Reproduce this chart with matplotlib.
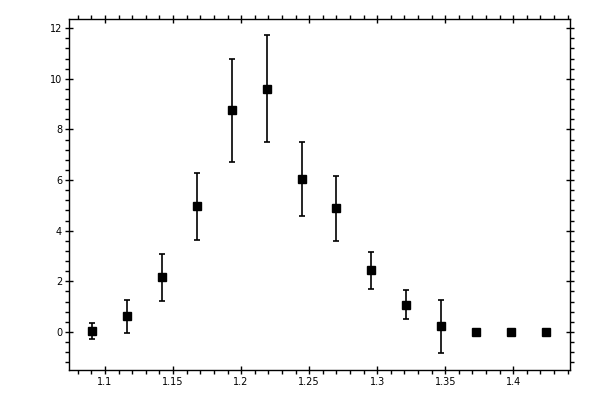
import matplotlib
matplotlib.use("Agg")
import matplotlib.pyplot as plt
from matplotlib.ticker import MultipleLocator

# bin centres, values and errors
x = [1.0904, 1.1162, 1.1419, 1.1677, 1.1934, 1.2191, 1.2449,
     1.2699, 1.2956, 1.3213, 1.347, 1.3728, 1.3985, 1.4243]
y = [0.03, 0.62, 2.16, 4.96, 8.75, 9.58, 6.03,
     4.88, 2.44, 1.05, 0.22, 0.0, 0.0, 0.0]
yerr_lo = [0.32, 0.67, 0.95, 1.34, 2.05, 2.09, 1.46,
           1.30, 0.75, 0.55, 1.06, 0.0, 0.0, 0.0]
yerr_hi = [0.31, 0.64, 0.91, 1.33, 2.05, 2.13, 1.46,
           1.27, 0.73, 0.60, 1.03, 0.0, 0.0, 0.0]

fig = plt.figure(figsize=(6, 4), dpi=100)
ax = fig.add_axes([0.115, 0.075, 0.835, 0.8775])

ax.errorbar(x, y, yerr=[yerr_lo, yerr_hi], fmt="s", color="black",
            ms=6, elinewidth=1.2, capsize=2.0, capthick=1.2)

ax.set_xlim(1.0735, 1.4417)
ax.set_ylim(-1.5, 12.36)

ax.xaxis.set_major_locator(MultipleLocator(0.05))
ax.xaxis.set_minor_locator(MultipleLocator(0.01))
ax.yaxis.set_major_locator(MultipleLocator(2))
ax.yaxis.set_minor_locator(MultipleLocator(0.4))
ax.xaxis.set_major_formatter(plt.FuncFormatter(lambda v, p: "%g" % round(v, 2)))

for s in ax.spines.values():
    s.set_linewidth(1.0)

ax.tick_params(which="major", direction="inout", length=6, width=1.0,
               top=True, right=True, labelsize=7, pad=2)
ax.tick_params(which="minor", direction="out", length=3, width=1.0,
               top=True, right=True)

fig.savefig("out.png", dpi=100)
